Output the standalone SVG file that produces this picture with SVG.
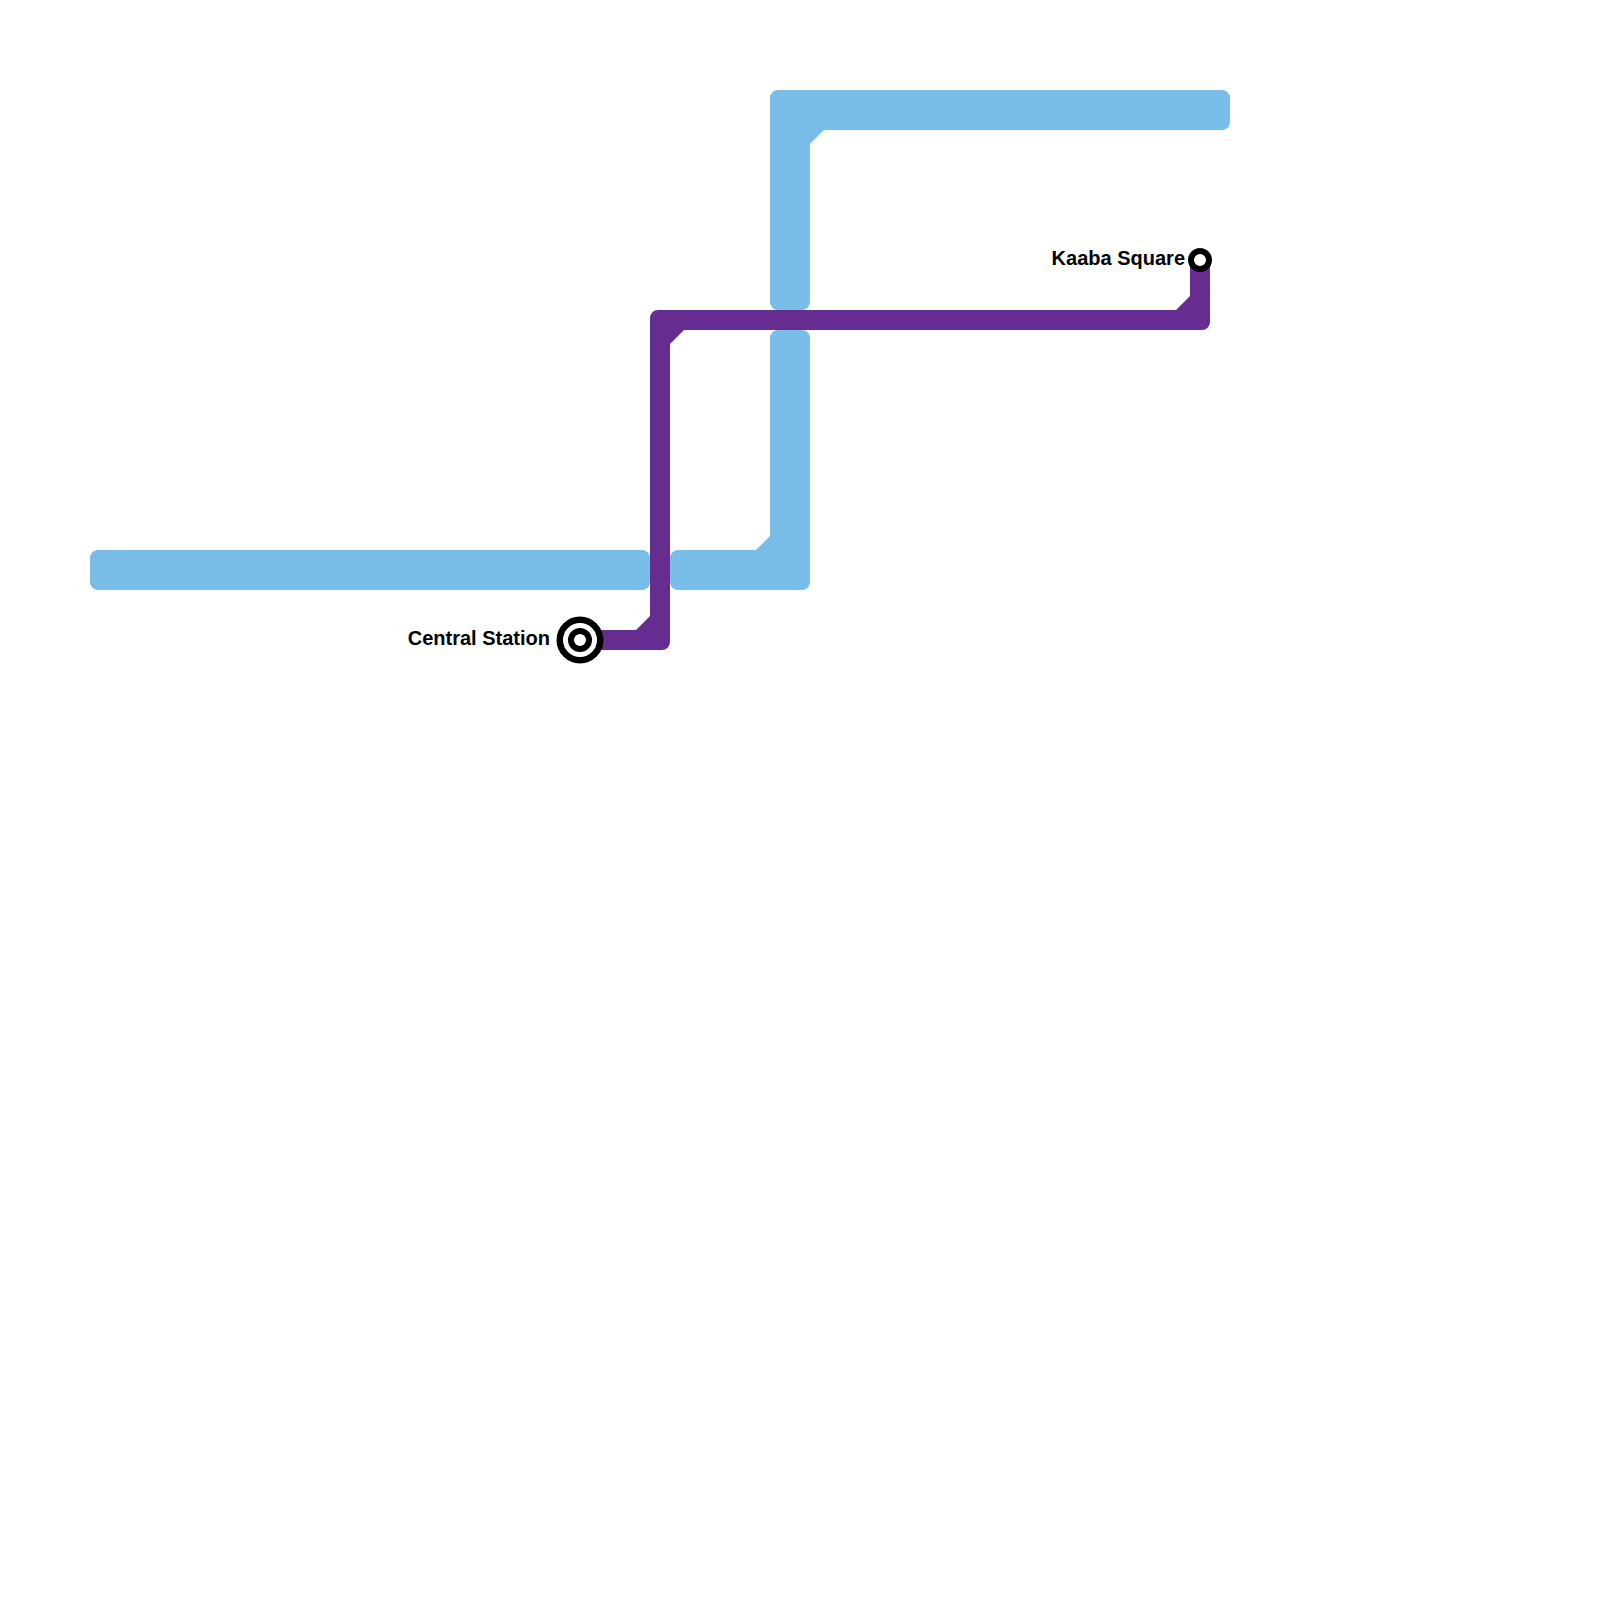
<svg xmlns="http://www.w3.org/2000/svg" width="1600" height="1600" viewBox="0 0 1600 1600">
<style>
.blue{fill:#79bde9}
.purple{fill:#662c90}
.ring{fill:#fff;stroke:#000;stroke-width:6}
.ring.outer{stroke-width:6.5}
.label{font-family:"Liberation Sans",Arial,sans-serif;font-weight:700;font-size:20px;fill:#000;text-anchor:end}
</style>
<rect width="1600" height="1600" fill="#fff"/>
<g id="connectors">
<path class="blue" d="M98 550H642a8 8 0 0 1 8 8V582a8 8 0 0 1 -8 8H98a8 8 0 0 1 -8 -8V558a8 8 0 0 1 8 -8Z"/>
<path class="blue" d="M678 550H756L770 536V338a8 8 0 0 1 8 -8H802a8 8 0 0 1 8 8V582a8 8 0 0 1 -8 8H678a8 8 0 0 1 -8 -8V558a8 8 0 0 1 8 -8Z"/>
<path class="blue" d="M778 90H1222a8 8 0 0 1 8 8V122a8 8 0 0 1 -8 8H824L810 144V302a8 8 0 0 1 -8 8H778a8 8 0 0 1 -8 -8V98a8 8 0 0 1 8 -8Z"/>
<path class="purple" d="M580 630H636L650 616V318a8 8 0 0 1 8 -8H1176L1190 296V260H1210V322a8 8 0 0 1 -8 8H684L670 344V642a8 8 0 0 1 -8 8H580Z"/>
</g>
<g id="central-station">
<circle class="ring outer" cx="580" cy="640" r="20.25"/>
<circle class="ring" cx="580" cy="640" r="9"/>
<text class="label" x="550" y="645">Central Station</text>
</g>
<g id="kaaba-square">
<circle class="ring" cx="1200" cy="260" r="9"/>
<text class="label" x="1185" y="265">Kaaba Square</text>
</g>
</svg>
